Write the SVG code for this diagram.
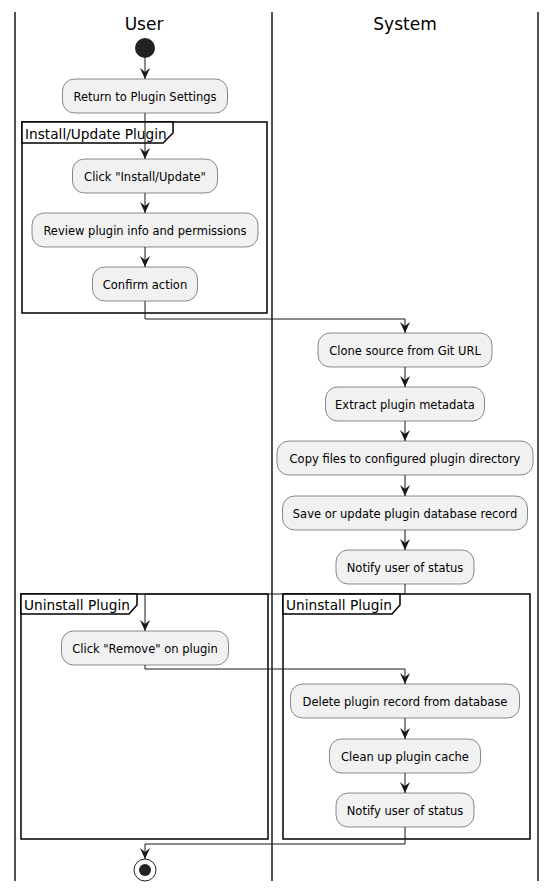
<svg xmlns="http://www.w3.org/2000/svg" width="556" height="892" viewBox="0 0 556 892">
<style>
.lane{stroke:#181818;stroke-width:1.5;fill:none}
.title{font-family:"DejaVu Sans",sans-serif;font-size:17px;fill:#000;text-anchor:middle}
.frame{stroke:#000;stroke-width:1.5;fill:none}
.tab{stroke:#000;stroke-width:1.5;fill:#fff}
.flabel{font-family:"DejaVu Sans",sans-serif;font-size:13.7px;fill:#000}
.box{fill:#F1F1F1;stroke:#181818;stroke-width:0.5}
.btxt{font-family:"DejaVu Sans",sans-serif;font-size:11.5px;fill:#000;text-anchor:middle}
.conn{stroke:#181818;stroke-width:1;fill:none;marker-end:url(#arr)}
</style>
<defs>
<marker id="arr" markerUnits="userSpaceOnUse" markerWidth="11" markerHeight="10" refX="11" refY="5" orient="auto">
<path d="M0,0 L11,5 L0,10 L4,5 Z" fill="#181818"/>
</marker>
</defs>
<rect width="556" height="892" fill="#fff"/>
<g id="lanes">
<line class="lane" x1="15" y1="12" x2="15" y2="881"/>
<line class="lane" x1="272" y1="12" x2="272" y2="881"/>
<line class="lane" x1="538" y1="12" x2="538" y2="881"/>
<text class="title" x="144" y="30">User</text>
<text class="title" x="405" y="30">System</text>
</g>
<g id="frames">
<g id="frame-install">
<rect class="frame" x="22" y="122" width="245" height="191"/>
<path class="tab" d="M22,122 L173,122 L173,133 L163,143 L22,143 Z"/>
<text class="flabel" x="25" y="139">Install/Update Plugin</text>
</g>
<g id="frame-uninstall-user">
<rect class="frame" x="21" y="594" width="247" height="245"/>
<path class="tab" d="M21,594 L137,594 L137,605 L129,614 L21,614 Z"/>
<text class="flabel" x="24" y="610">Uninstall Plugin</text>
</g>
<g id="frame-uninstall-system">
<rect class="frame" x="283" y="594" width="247" height="245"/>
<path class="tab" d="M283,594 L400,594 L400,605 L392,614 L283,614 Z"/>
<text class="flabel" x="286" y="610">Uninstall Plugin</text>
</g>
</g>
<g id="connectors">
<path class="conn" d="M145,58 L145,79"/>
<path class="conn" d="M145,113 L145,159"/>
<path class="conn" d="M145,193 L145,213"/>
<path class="conn" d="M145,247 L145,267"/>
<path class="conn" d="M145,301 L145,319 L405,319 L405,333"/>
<path class="conn" d="M405,367 L405,387"/>
<path class="conn" d="M405,421 L405,441"/>
<path class="conn" d="M405,475 L405,496"/>
<path class="conn" d="M405,530 L405,550"/>
<path class="conn" d="M405,584 L405,594 L145,594 L145,631"/>
<path class="conn" d="M145,665 L145,669 L405,669 L405,684"/>
<path class="conn" d="M405,718 L405,739"/>
<path class="conn" d="M405,773 L405,793"/>
<path class="conn" d="M405,827 L405,844 L145,844 L145,859"/>
</g>
<g id="start"><circle cx="145" cy="48" r="10" fill="#222"/></g>
<g id="n-return"><rect class="box" x="62.5" y="79" width="165" height="34" rx="12"/><text class="btxt" x="145" y="100.5">Return to Plugin Settings</text></g>
<g id="n-click-install"><rect class="box" x="72.5" y="159" width="145" height="34" rx="12"/><text class="btxt" x="145" y="180.5">Click "Install/Update"</text></g>
<g id="n-review"><rect class="box" x="32" y="213" width="226" height="34" rx="12"/><text class="btxt" x="145" y="234.5">Review plugin info and permissions</text></g>
<g id="n-confirm"><rect class="box" x="92.5" y="267" width="105" height="34" rx="12"/><text class="btxt" x="145" y="288.5">Confirm action</text></g>
<g id="n-clone"><rect class="box" x="318" y="333" width="174" height="34" rx="12"/><text class="btxt" x="405" y="354.5">Clone source from Git URL</text></g>
<g id="n-extract"><rect class="box" x="325.5" y="387" width="159" height="34" rx="12"/><text class="btxt" x="405" y="408.5">Extract plugin metadata</text></g>
<g id="n-copy"><rect class="box" x="277" y="441" width="256" height="34" rx="12"/><text class="btxt" x="405" y="462.5">Copy files to configured plugin directory</text></g>
<g id="n-save"><rect class="box" x="282.5" y="496" width="245" height="34" rx="12"/><text class="btxt" x="405" y="517.5">Save or update plugin database record</text></g>
<g id="n-notify1"><rect class="box" x="336" y="550" width="138" height="34" rx="12"/><text class="btxt" x="405" y="571.5">Notify user of status</text></g>
<g id="n-remove"><rect class="box" x="61.5" y="631" width="167" height="34" rx="12"/><text class="btxt" x="145" y="652.5">Click "Remove" on plugin</text></g>
<g id="n-delete"><rect class="box" x="290.5" y="684" width="229" height="34" rx="12"/><text class="btxt" x="405" y="705.5">Delete plugin record from database</text></g>
<g id="n-clean"><rect class="box" x="329.5" y="739" width="151" height="34" rx="12"/><text class="btxt" x="405" y="760.5">Clean up plugin cache</text></g>
<g id="n-notify2"><rect class="box" x="336" y="793" width="138" height="34" rx="12"/><text class="btxt" x="405" y="814.5">Notify user of status</text></g>
<g id="end"><circle cx="145" cy="870" r="11" fill="#fff" stroke="#222" stroke-width="1"/><circle cx="145" cy="870" r="6" fill="#222"/></g>
</svg>
